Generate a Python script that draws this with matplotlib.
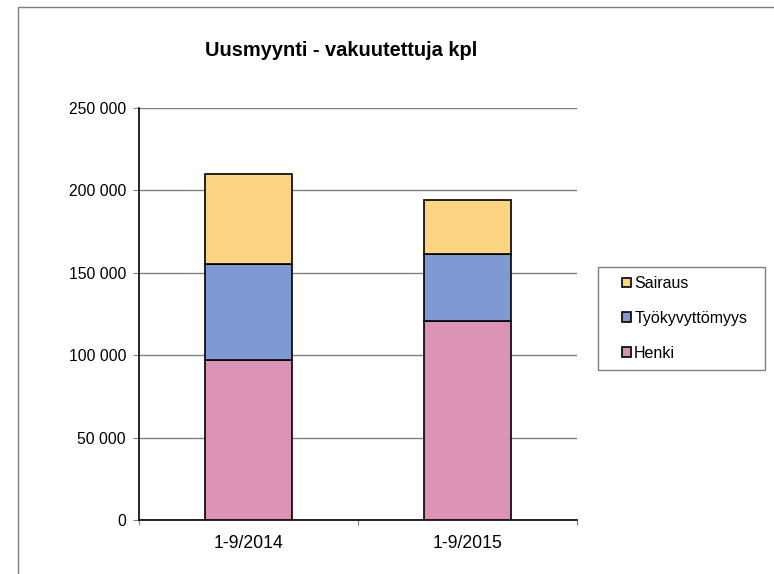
import numpy as np
import matplotlib.pyplot as plt
from matplotlib.patches import Rectangle
from matplotlib.ticker import FuncFormatter, FixedLocator

plt.rcParams['font.family'] = ['Liberation Sans', 'DejaVu Sans']

categories = ["1-9/2014", "1-9/2015"]
henki = [97300, 120500]
tyokyvyttomyys = [58200, 41200]
sairaus = [54700, 32300]

series_names = ["Henki", "Työkyvyttömyys", "Sairaus"]
colors = ["#DB94B6", "#7F99D3", "#FDD582"]

W, H = 774, 574
fig = plt.figure(figsize=(W / 100, H / 100), dpi=100)
ax = fig.add_axes([139 / W, 1 - 520 / H, 438 / W, 412 / H])

# outer chart frame (cut off at right and bottom)
fig.patches.append(Rectangle((18 / W, -0.1), 1.0, 1 - 7 / H + 0.1,
                             transform=fig.transFigure, fill=False,
                             edgecolor="#808080", linewidth=1.0))

x = np.arange(len(categories))
bottom = np.zeros(len(categories))
handles = []
for name, vals, col in zip(series_names, [henki, tyokyvyttomyys, sairaus], colors):
    b = ax.bar(x, vals, width=0.4, bottom=bottom, color=col,
               edgecolor="black", linewidth=1.2, label=name, zorder=3)
    handles.append(b)
    bottom += np.array(vals)

ax.set_xlim(-0.5, 1.5)
ax.set_ylim(0, 250000)
ax.set_yticks(np.arange(0, 250001, 50000))
ax.yaxis.set_major_formatter(FuncFormatter(lambda v, p: f"{int(v):,}".replace(",", " ")))
ax.xaxis.set_major_locator(FixedLocator([-0.5, 0.5, 1.5]))
ax.set_xticklabels([])
ax.set_xticks(x, minor=True)
ax.set_xticklabels(categories, minor=True)
ax.tick_params(axis="x", which="minor", length=0, pad=11, labelsize=12.7)
ax.tick_params(axis="x", which="major", length=3.6, direction="out", color="#808080")
ax.tick_params(axis="y", length=4.3, direction="out", labelsize=11.3, pad=5, color="#808080")

ax.grid(axis="y", color="#808080", linewidth=1.0, zorder=0)
ax.set_axisbelow(True)
for s in ["top", "right"]:
    ax.spines[s].set_visible(False)
ax.spines["left"].set_linewidth(1.2)
ax.spines["bottom"].set_linewidth(1.2)

fig.text(341 / W, 1 - 56 / H, "Uusmyynti - vakuutettuja kpl",
         ha="center", va="baseline", fontsize=14.4, fontweight="bold")

# legend box drawn separately, entries indented like the original
fig.patches.append(Rectangle((598 / W, 1 - 370 / H), 167 / W, 103 / H,
                             transform=fig.transFigure, fill=False,
                             edgecolor="#808080", linewidth=1.0))
leg = fig.legend(handles[::-1], series_names[::-1], loc="center left",
                 bbox_to_anchor=(622 / W, 1 - 318.5 / H), fontsize=11.5,
                 frameon=False, handlelength=0.56, handleheight=0.56,
                 handletextpad=0.2, labelspacing=1.25, borderpad=0,
                 borderaxespad=0)

fig.savefig("out.png", dpi=100)
